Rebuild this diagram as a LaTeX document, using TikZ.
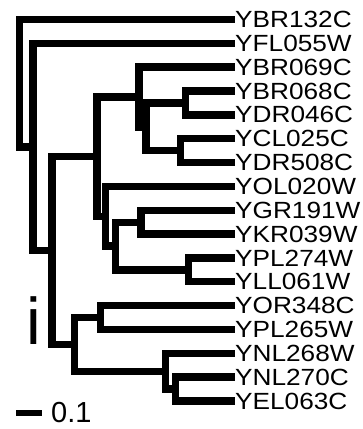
\documentclass[tikz,border=0pt]{standalone}
\usepackage{fontspec}
\setmainfont{Liberation Sans}
\usepackage{tikz}

\newcommand{\genelabel}[1]{\scalebox{1.12}[1]{#1}}

\begin{document}
\begin{tikzpicture}[x=1pt, y=-1pt,
    branch/.style={line width=7.4pt, line join=miter},
    gene/.style={anchor=west, inner sep=0pt, font=\fontsize{23.4}{28}\selectfont}]
    \useasboundingbox (0,0) rectangle (362,429);

    % leaves
    \foreach \g [count=\k from 0] in {YBR132C,YFL055W,YBR069C,YBR068C,YDR046C,YCL025C,YDR508C,YOL020W,YGR191W,YKR039W,YPL274W,YLL061W,YOR348C,YPL265W,YNL268W,YNL270C,YEL063C}
        \node[gene] (\g) at (235,{19.5+23.84*\k}) {\genelabel{\g}};

    % inner nodes
    \coordinate (root) at (19.5,83.2);
    \coordinate (cT) at (33,146.9);
    \coordinate (cS) at (52,250.5);
    \coordinate (cE) at (97,156.6);
    \coordinate (cF) at (139,97);
    \coordinate (cI) at (146,126.8);
    \coordinate (cH1) at (185.5,103);
    \coordinate (cH2) at (180.5,150.6);
    \coordinate (cD) at (105.5,216.2);
    \coordinate (cC) at (115.3,246);
    \coordinate (cA) at (141,222.2);
    \coordinate (cB) at (188.7,269.8);
    \coordinate (cR) at (74.5,344.3);
    \coordinate (cP) at (100.5,317.5);
    \coordinate (cQ) at (165.5,371.2);
    \coordinate (cQ2) at (175.5,389);

    % branches
    \foreach \a/\b in {root/YBR132C, root/cT, cT/YFL055W, cT/cS, cS/cE, cS/cR,
        cE/cF, cE/cD, cF/YBR069C, cF/cI, cI/cH1, cI/cH2,
        cH1/YBR068C, cH1/YDR046C, cH2/YCL025C, cH2/YDR508C,
        cD/YOL020W, cD/cC, cC/cA, cC/cB, cA/YGR191W, cA/YKR039W,
        cB/YPL274W, cB/YLL061W, cR/cP, cR/cQ, cP/YOR348C, cP/YPL265W,
        cQ/YNL268W, cQ/cQ2, cQ2/YNL270C, cQ2/YEL063C}
        \draw[branch] (\a) |- (\b);

    % mark
    \node[inner sep=0pt, font=\fontsize{66}{70}\selectfont] (mark) at (33.5,320.5) {i};

    % scale
    \coordinate (bar0) at (16,413);
    \coordinate (bar1) at (42,413);
    \draw[line width=6.5pt] (bar0) -- (bar1);
    \node[anchor=west, inner sep=0pt, font=\fontsize{29}{34}\selectfont] (barlabel) at (51,413) {0.1};
\end{tikzpicture}
\end{document}
